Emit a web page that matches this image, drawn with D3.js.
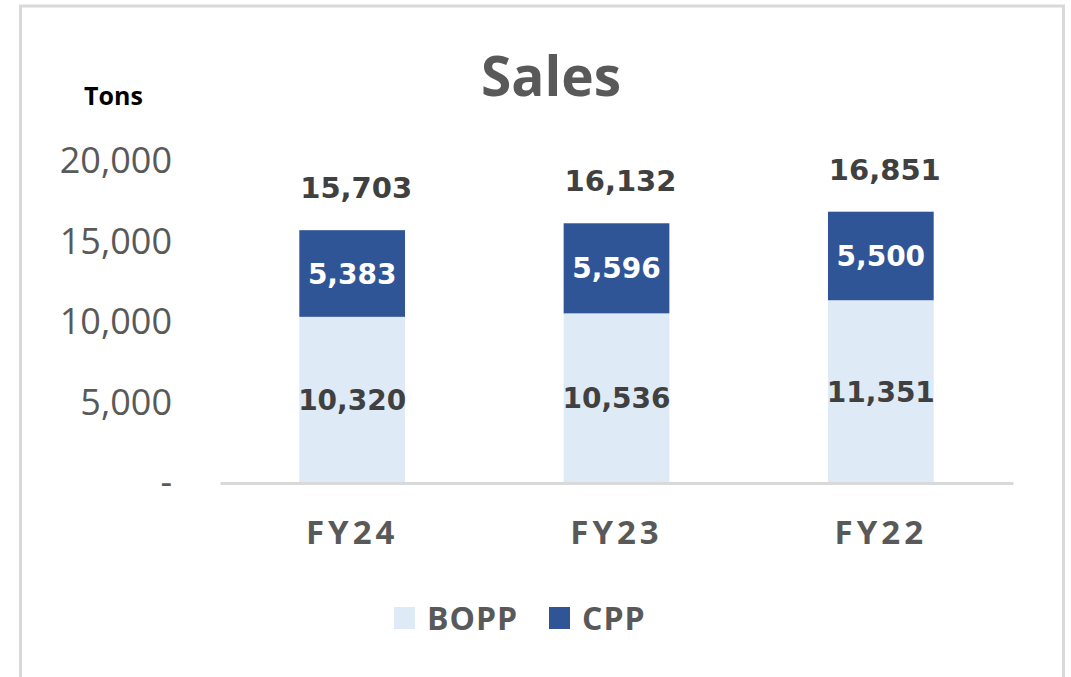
<!DOCTYPE html>
<html>
<head>
<meta charset="utf-8">
<script src="https://cdn.jsdelivr.net/npm/d3@7"></script>
<style>
  html, body { margin: 0; padding: 0; background: #fff; }
  svg { display: block; }
</style>
</head>
<body>
<div id="chart"></div>
<script>
// chart data
const years = ["FY24", "FY23", "FY22"];
const bopp = [10320, 10536, 11351];
const cpp = [5383, 5596, 5500];
const totals = [15703, 16132, 16851];
const yTicks = [0, 5000, 10000, 15000, 20000];
const seriesNames = ["BOPP", "CPP"];
const seriesColors = ["#DEEAF6", "#2F5597"];

const width = 1071, height = 677;
const margin = { top: 161, left: 220, right: 58, bottom: 194 };

const svg = d3.select("#chart").append("svg")
    .attr("width", width)
    .attr("height", height);

// outer frame
svg.append("rect")
    .attr("x", 20.5).attr("y", 6)
    .attr("width", 1043).attr("height", 720)
    .attr("fill", "#fff")
    .attr("stroke", "#D9D9D9")
    .attr("stroke-width", 3);

const x = d3.scaleBand()
    .domain(years)
    .range([margin.left, width - margin.right])
    .paddingInner(0.6)
    .paddingOuter(0.3);

const y = d3.scaleLinear()
    .domain([0, 20000])
    .range([height - margin.bottom, margin.top]);

// stacked data
const rows = years.map((yr, i) => ({ year: yr, BOPP: bopp[i], CPP: cpp[i] }));
const stacked = d3.stack().keys(seriesNames)(rows);

// title
svg.append("text")
    .attr("x", 551).attr("y", 96)
    .attr("text-anchor", "middle")
    .style("font-family", "'Open Sans', sans-serif")
    .style("font-weight", "bold")
    .style("font-size", "55px")
    .style("fill", "#595959")
    .text("Sales");

// unit label
svg.append("text")
    .attr("x", 84).attr("y", 105)
    .style("font-family", "'Open Sans', sans-serif")
    .style("font-weight", "bold")
    .style("font-size", "25px")
    .style("fill", "#000")
    .text("Tons");

// y axis
const gY = svg.append("g")
    .attr("transform", "translate(" + (margin.left - 48) + ",0)")
    .call(d3.axisLeft(y)
        .tickValues(yTicks)
        .tickSize(0)
        .tickFormat(d => d === 0 ? "-" : d3.format(",")(d)));
gY.select(".domain").remove();
gY.selectAll("text")
    .attr("x", 0)
    .style("font-family", "'Open Sans', sans-serif")
    .style("font-size", "36px")
    .style("fill", "#595959");

// bars
const layers = svg.append("g").selectAll("g")
    .data(stacked)
    .join("g")
    .attr("fill", (d, i) => seriesColors[i]);

layers.selectAll("rect")
    .data(d => d)
    .join("rect")
    .attr("x", d => x(d.data.year))
    .attr("y", d => y(d[1]))
    .attr("width", x.bandwidth())
    .attr("height", d => y(d[0]) - y(d[1]));

// segment labels
layers.each(function (layer, li) {
    d3.select(this).selectAll("text.seg")
        .data(layer)
        .join("text")
        .attr("class", "seg")
        .attr("x", d => x(d.data.year) + x.bandwidth() / 2)
        .attr("y", d => (y(d[0]) + y(d[1])) / 2)
        .attr("dy", "0.36em")
        .attr("text-anchor", "middle")
        .style("font-family", "'DejaVu Sans', sans-serif")
        .style("font-weight", "bold")
        .style("font-size", "28px")
        .style("fill", li === 0 ? "#404040" : "#FFFFFF")
        .text(d => d3.format(",")(d[1] - d[0]));
});

// totals
svg.append("g").selectAll("text")
    .data(years)
    .join("text")
    .attr("x", d => x(d) + x.bandwidth() / 2 + 4)
    .attr("y", (d, i) => y(totals[i]) - 32)
    .attr("text-anchor", "middle")
    .style("font-family", "'DejaVu Sans', sans-serif")
    .style("font-weight", "bold")
    .style("font-size", "29px")
    .style("fill", "#404040")
    .text((d, i) => d3.format(",")(totals[i]));

// x axis
const gX = svg.append("g")
    .attr("transform", "translate(0," + y(0) + ")")
    .call(d3.axisBottom(x).tickSize(0).tickSizeOuter(0).tickPadding(49));
gX.select(".domain")
    .attr("stroke", "#D9D9D9")
    .attr("stroke-width", 3);
gX.selectAll("text")
    .attr("dy", "0.36em")
    .style("font-family", "'Open Sans', sans-serif")
    .style("font-weight", "bold")
    .style("font-size", "33px")
    .style("letter-spacing", "4px")
    .style("fill", "#595959");

// legend
const legend = svg.append("g");
const legendX = [394, 549];
seriesNames.forEach((name, i) => {
    legend.append("rect")
        .attr("x", legendX[i]).attr("y", 607)
        .attr("width", 21).attr("height", 22)
        .attr("fill", seriesColors[i]);
    legend.append("text")
        .attr("x", legendX[i] + 33).attr("y", 618)
        .attr("dy", "0.36em")
        .style("font-family", "'Open Sans', sans-serif")
        .style("font-weight", "bold")
        .style("font-size", "32px")
        .style("letter-spacing", "1px")
        .style("fill", "#595959")
        .text(name);
});
</script>
</body>
</html>
